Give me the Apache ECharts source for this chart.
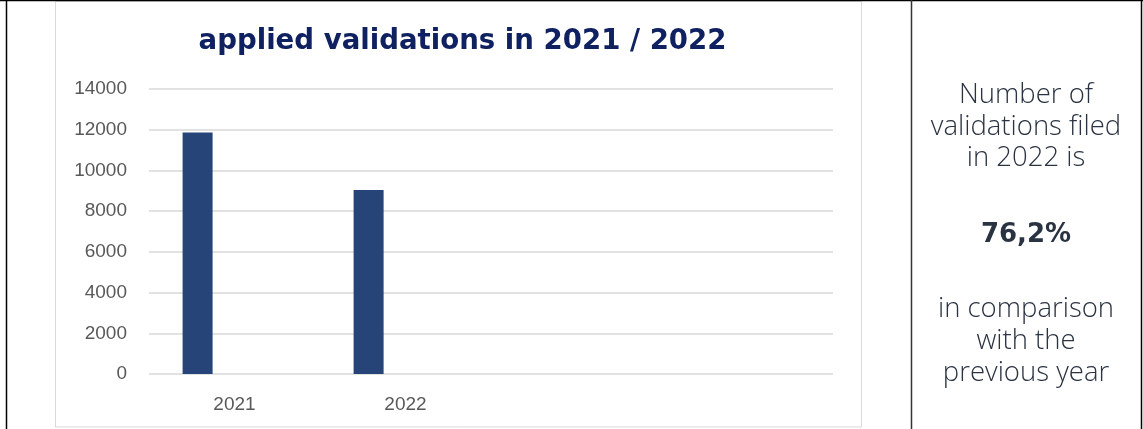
<!DOCTYPE html>
<html><head><meta charset="utf-8">
<script src="https://cdn.jsdelivr.net/npm/echarts@6/dist/echarts.min.js"></script>
<style>html,body{margin:0;padding:0;background:#fff}#c{width:1143px;height:429px}</style>
</head><body><div id="c"></div>
<script>
const categories = ['2021', '2022', '', ''];
const validations = [11865, 9040, null, null];
const placeholder = [null, null, null, null];
const yTicks = [0, 2000, 4000, 6000, 8000, 10000, 12000, 14000];
const titleText = 'applied validations in 2021 / 2022';
const sideLines1 = ['Number of', 'validations filed', 'in 2022 is'];
const sideValue = '76,2%';
const sideLines2 = ['in comparison', 'with the', 'previous year'];

const chart = echarts.init(document.getElementById('c'));
const sideFont = '"Open Sans", Lato, sans-serif';
const sideColor = '#2a3342';
const graphics = [
  {type:'rect', shape:{x:55.5,y:1.5,width:806,height:425.5}, style:{fill:'none',stroke:'#d9d9d9',lineWidth:1}, silent:true},
  {type:'line', shape:{x1:6.5,y1:0,x2:6.5,y2:429}, style:{stroke:'#000',lineWidth:1.5}},
  {type:'line', shape:{x1:0,y1:0.5,x2:1143,y2:0.5}, style:{stroke:'#000',lineWidth:1.5}},
  {type:'line', shape:{x1:911.5,y1:0,x2:911.5,y2:429}, style:{stroke:'#333',lineWidth:1.5}},
  {type:'line', shape:{x1:1141.5,y1:0,x2:1141.5,y2:429}, style:{stroke:'#000',lineWidth:1.5}}
];
sideLines1.forEach((t,i)=>graphics.push({type:'text', x:1026, y:95+i*31.7, style:{text:t, font:'300 27.5px '+sideFont, fill:sideColor, textAlign:'center', textVerticalAlign:'middle'}}));
graphics.push({type:'text', x:1026, y:235, style:{text:sideValue, font:'bold 26px "DejaVu Sans", sans-serif', fill:sideColor, textAlign:'center', textVerticalAlign:'middle'}});
sideLines2.forEach((t,i)=>graphics.push({type:'text', x:1026, y:309+i*32, style:{text:t, font:'300 27.5px '+sideFont, fill:sideColor, textAlign:'center', textVerticalAlign:'middle'}}));

chart.setOption({
  animation:false,
  title:{text:titleText, left:457.5, top:23, textAlign:'center',
    textStyle:{fontFamily:'"DejaVu Sans", sans-serif', fontWeight:'bold', fontSize:27.6, color:'#0f2160'}},
  grid:{left:149, right:310, top:89, bottom:55, containLabel:false},
  xAxis:{type:'category', data:categories,
    axisLine:{show:false}, axisTick:{show:false},
    axisLabel:{color:'#595959', fontSize:19, fontFamily:'"Liberation Sans", sans-serif', margin:21}},
  yAxis:{type:'value', min:yTicks[0], max:yTicks[yTicks.length-1], interval:yTicks[1]-yTicks[0],
    axisLine:{show:false}, axisTick:{show:false},
    splitLine:{lineStyle:{color:'#d9d9d9', width:1.5}},
    axisLabel:{color:'#595959', fontSize:19, fontFamily:'"Liberation Sans", sans-serif', margin:22,
      formatter:v=>String(v)}},
  series:[
    {type:'bar', data:validations, barWidth:30, barGap:'23%', itemStyle:{color:'#264478'}},
    {type:'bar', data:placeholder, barWidth:30},
    {type:'bar', data:placeholder, barWidth:30}
  ],
  graphic:graphics
});
</script></body></html>
